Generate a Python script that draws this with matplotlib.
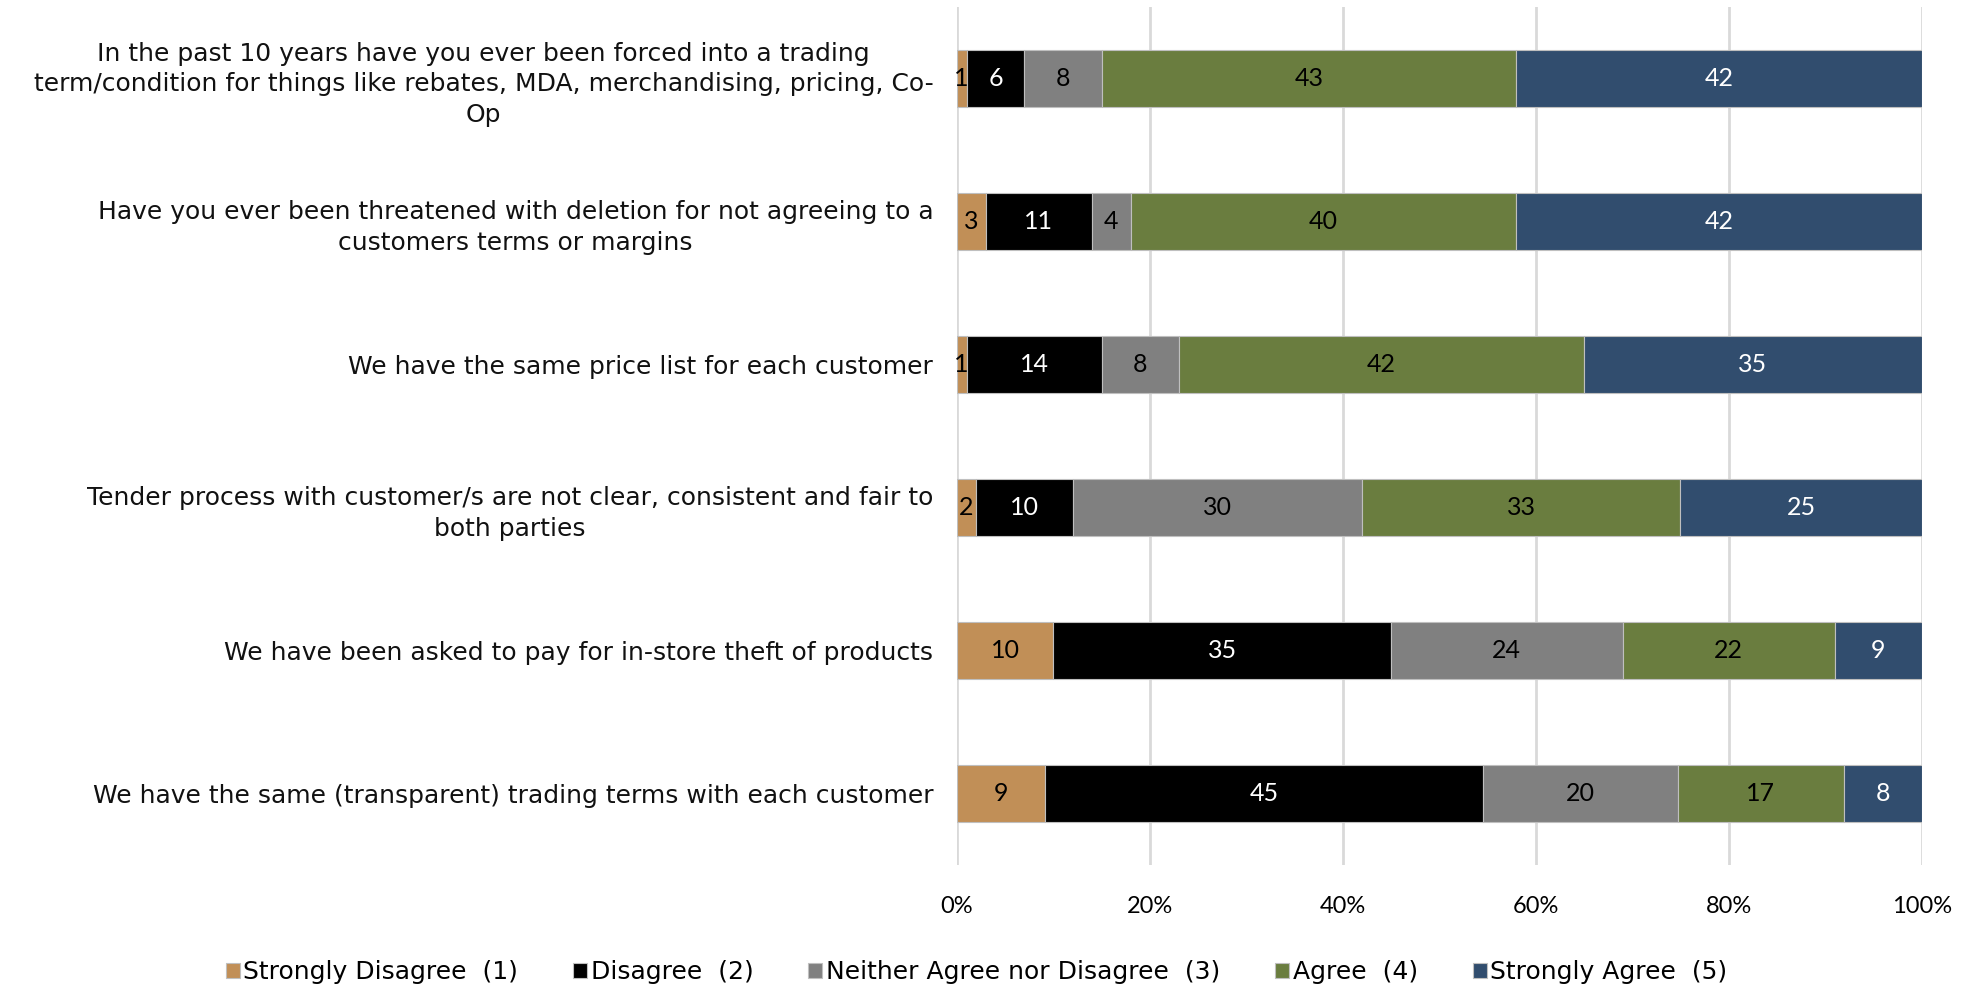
import matplotlib.pyplot as plt
import numpy as np

questions = [
    "In the past 10 years have you ever been forced into a trading\nterm/condition for things like rebates, MDA, merchandising, pricing, Co-\nOp",
    "Have you ever been threatened with deletion for not agreeing to a\ncustomers terms or margins",
    "We have the same price list for each customer",
    "Tender process with customer/s are not clear, consistent and fair to\nboth parties",
    "We have been asked to pay for in-store theft of products",
    "We have the same (transparent) trading terms with each customer",
]
categories = ["Strongly Disagree  (1)", "Disagree  (2)", "Neither Agree nor Disagree  (3)",
              "Agree  (4)", "Strongly Agree  (5)"]
strongly_disagree = [1, 3, 1, 2, 10, 9]
disagree = [6, 11, 14, 10, 35, 45]
neutral = [8, 4, 8, 30, 24, 20]
agree = [43, 40, 42, 33, 22, 17]
strongly_agree = [42, 42, 35, 25, 9, 8]

colors = ["#C18F57", "#000000", "#808080", "#6A7D3F", "#314D6E"]
text_colors = ["black", "white", "black", "black", "white"]

plt.rcParams['font.family'] = ['DejaVu Sans']

series = np.array([strongly_disagree, disagree, neutral, agree, strongly_agree], dtype=float)
shares = series / series.sum(axis=0)

fig = plt.figure(figsize=(19.77, 9.89), dpi=100)
ax = fig.add_axes([0.484, 0.125, 0.488, 0.868])

y = np.arange(len(questions))
left = np.zeros(len(questions))
for i, cat in enumerate(categories):
    ax.barh(y, shares[i], left=left, height=0.4, color=colors[i], label=cat,
            edgecolor="#BFBFBF", linewidth=0.8, zorder=3)
    for j in range(len(questions)):
        ax.text(left[j] + shares[i][j] / 2, y[j], f"{int(series[i][j])}",
                ha="center", va="center", fontsize=18, color=text_colors[i],
                family="Lato", zorder=4)
    left += shares[i]

ax.set_xlim(0, 1)
ax.set_ylim(len(questions) - 0.5, -0.5)
ax.set_xticks(np.arange(0, 1.01, 0.2))
ax.set_xticklabels([f"{int(v * 100)}%" for v in np.arange(0, 1.01, 0.2)], fontsize=17,
                   family="Lato")
ax.set_yticks(y)
ax.set_yticklabels(questions, fontsize=18, ha="right", multialignment="center",
                   color="#111111", linespacing=1.35)
ax.tick_params(axis="y", length=0, pad=17)
ax.tick_params(axis="x", length=0, pad=22)
ax.grid(axis="x", color="#D9D9D9", linewidth=2, zorder=0)
for s in ax.spines.values():
    s.set_visible(False)

fig.legend(loc="lower center", bbox_to_anchor=(0.494, -0.018), ncol=5, fontsize=18,
           frameon=False, handlelength=0.55, handleheight=0.55, handletextpad=0.15,
           columnspacing=2.2)

fig.savefig("out.png", dpi=100)
